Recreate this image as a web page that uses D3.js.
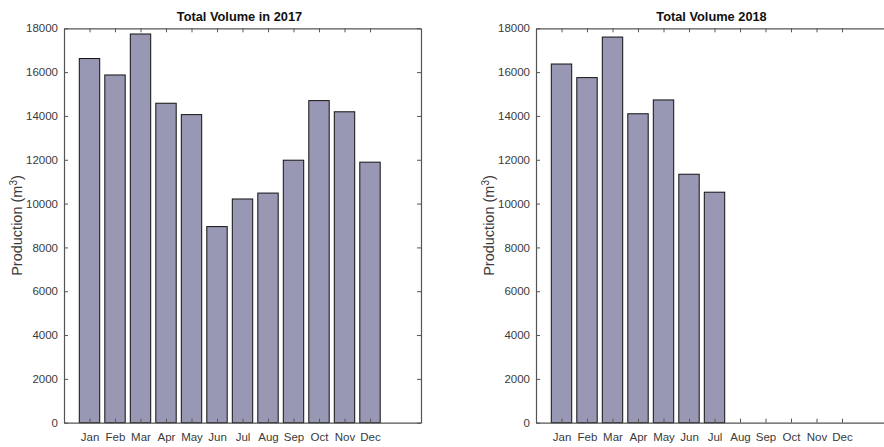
<!DOCTYPE html>
<html>
<head>
<meta charset="utf-8">
<script src="https://cdn.jsdelivr.net/npm/d3@7/dist/d3.min.js"></script>
<style>
  html, body { margin: 0; padding: 0; background: #fff; }
  svg { display: block; }
</style>
</head>
<body>
<svg id="chart" width="884" height="447"></svg>
<script>
const months = ["Jan","Feb","Mar","Apr","May","Jun","Jul","Aug","Sep","Oct","Nov","Dec"];
const values2017 = [16620, 15870, 17740, 14580, 14060, 8950, 10210, 10480, 11980, 14700, 14190, 11890];
const values2018 = [16370, 15750, 17600, 14100, 14730, 11340, 10520, 0, 0, 0, 0, 0];
const yTicks = [0, 2000, 4000, 6000, 8000, 10000, 12000, 14000, 16000, 18000];
const titles = ["Total Volume in 2017", "Total Volume 2018"];

const svg = d3.select("#chart");
const fontFam = "'Liberation Sans', Arial, Helvetica, sans-serif";
const axisColor = "#555";
const textColor = "#3a3a3a";

const panels = [
  { left: 64, width: 357, data: values2017, title: titles[0], ylabX: 17 },
  { left: 536, width: 357, data: values2018, title: titles[1], ylabX: 489 }
];
const plotTop = 28.3, plotBottom = 422.7;

panels.forEach(p => {
  const g = svg.append("g");
  const x = d3.scaleLinear().domain([0, 14]).range([p.left, p.left + p.width]);
  const y = d3.scaleLinear().domain([0, 18000]).range([plotBottom, plotTop]);
  const bw = x(0.8) - x(0);

  g.selectAll("rect.bar").data(p.data).enter().append("rect")
    .attr("class", "bar")
    .attr("x", (d, i) => x(i + 1) - bw / 2)
    .attr("width", bw)
    .attr("y", d => y(d))
    .attr("height", d => y(0) - y(d))
    .attr("fill", "#9898b4")
    .attr("stroke", "#111")
    .attr("stroke-width", 1);

  const tickLen = 4;
  const xAxis = d3.axisBottom(x).tickValues(d3.range(1, 13))
    .tickFormat(d => months[d - 1]).tickSizeInner(-tickLen).tickSizeOuter(0).tickPadding(10);
  const gx = g.append("g").attr("transform", `translate(0,${plotBottom})`).call(xAxis);
  const xAxisTop = d3.axisTop(x).tickValues(d3.range(1, 13))
    .tickFormat("").tickSizeInner(-tickLen).tickSizeOuter(0);
  const gxt = g.append("g").attr("transform", `translate(0,${plotTop})`).call(xAxisTop);
  const yAxis = d3.axisLeft(y).tickValues(yTicks).tickFormat(d3.format("d"))
    .tickSizeInner(-tickLen).tickSizeOuter(0).tickPadding(6);
  const gy = g.append("g").attr("transform", `translate(${p.left},0)`).call(yAxis);
  const yAxisR = d3.axisRight(y).tickValues(yTicks).tickFormat("")
    .tickSizeInner(-tickLen).tickSizeOuter(0);
  const gyr = g.append("g").attr("transform", `translate(${p.left + p.width},0)`).call(yAxisR);

  [gx, gxt, gy, gyr].forEach(a => {
    a.selectAll(".domain").attr("stroke", axisColor).attr("stroke-width", 1.2);
    a.selectAll(".tick line").attr("stroke", axisColor);
    a.selectAll("text").attr("fill", textColor).style("font-family", fontFam).style("font-size", "11.5px");
  });

  g.append("text")
    .attr("x", (p.left + p.left + p.width) / 2 - 3)
    .attr("y", 20.5)
    .attr("text-anchor", "middle")
    .style("font-family", fontFam)
    .style("font-size", "12.8px")
    .style("font-weight", "bold")
    .attr("fill", "#111")
    .text(p.title);

  const yl = g.append("text")
    .attr("transform", `translate(${p.ylabX + 5},${(plotTop + plotBottom) / 2}) rotate(-90)`)
    .attr("text-anchor", "middle")
    .style("font-family", fontFam)
    .style("font-size", "14.5px")
    .attr("fill", textColor);
  yl.append("tspan").text("Production (m");
  yl.append("tspan").attr("baseline-shift", "super").style("font-size", "10px").text("3");
  yl.append("tspan").text(")");
});
</script>
</body>
</html>
